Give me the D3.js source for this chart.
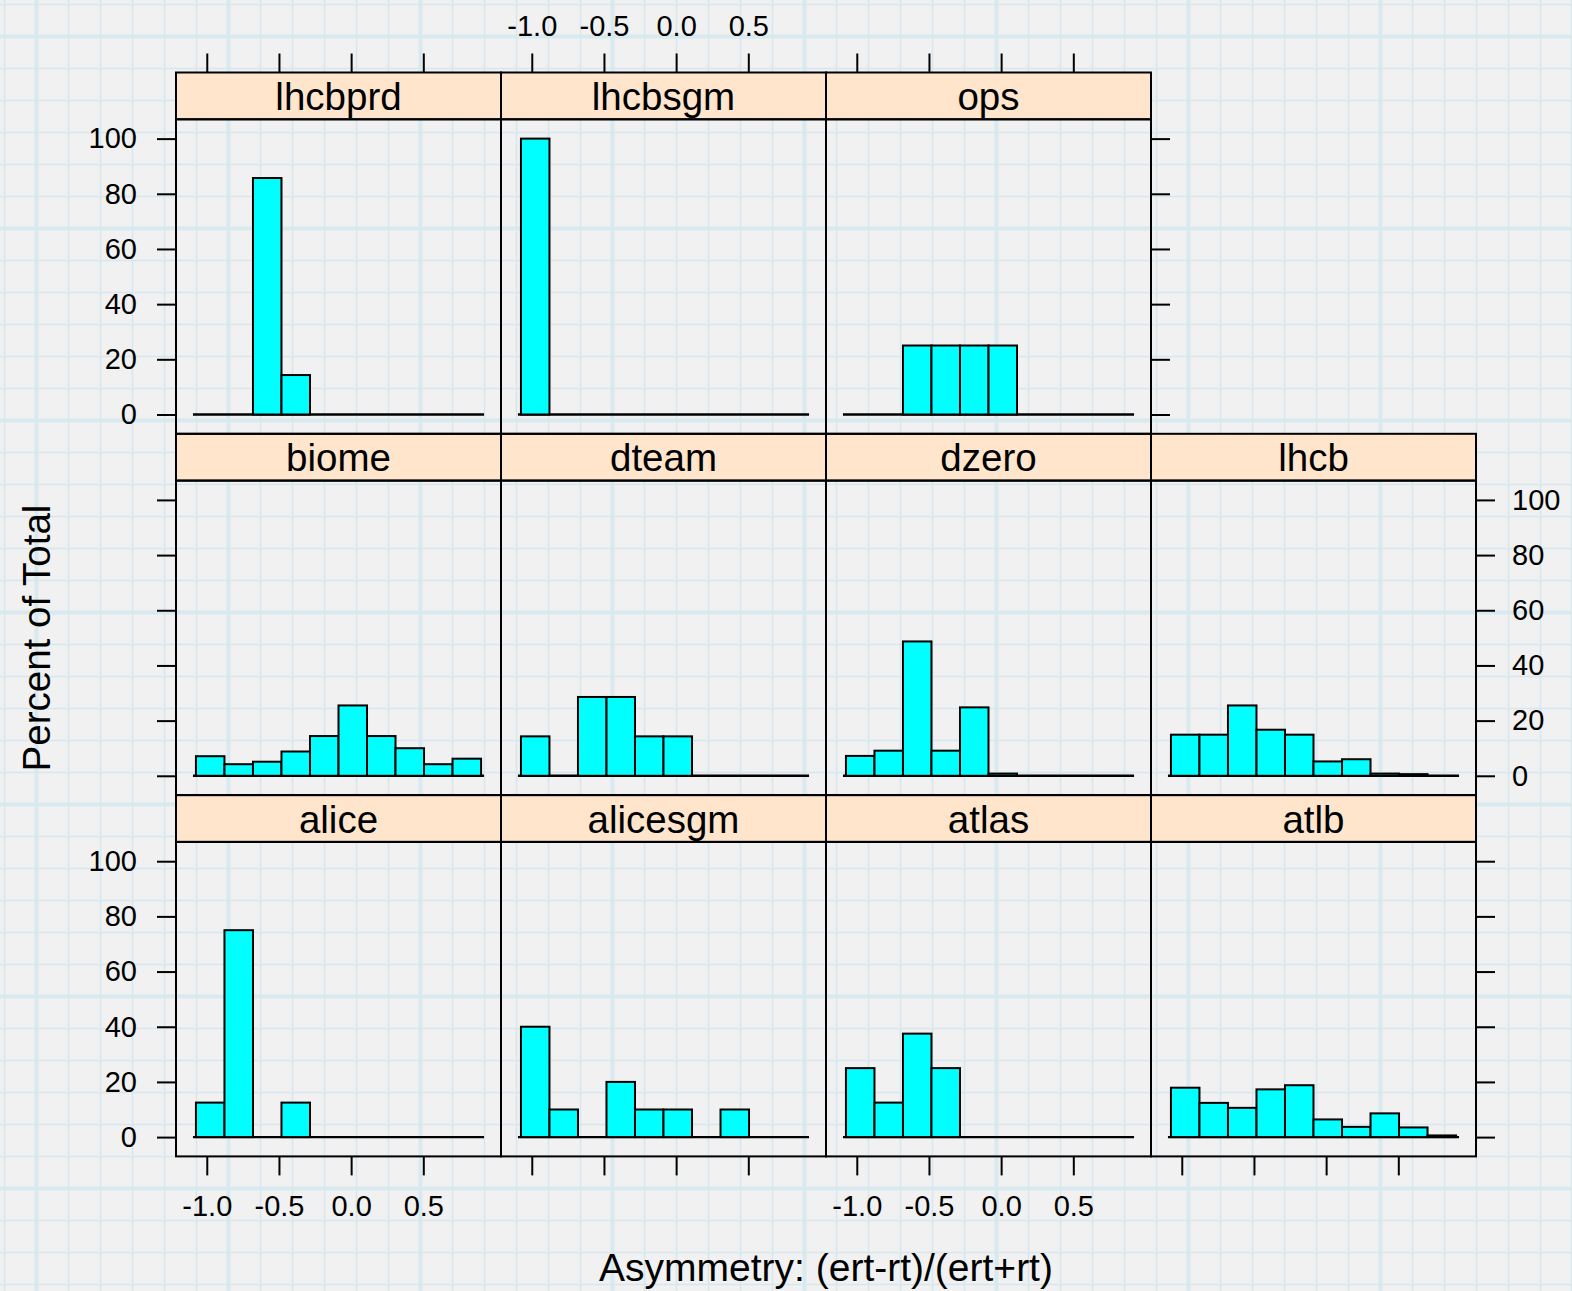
<!DOCTYPE html>
<html>
<head>
<meta charset="utf-8">
<script src="https://cdn.jsdelivr.net/npm/d3@7"></script>
<style>
  html, body { margin: 0; padding: 0; background: #f1f1f1; }
  svg { display: block; }
  text { font-family: "Liberation Sans", Arial, Helvetica, sans-serif; fill: #000; }
</style>
</head>
<body>
<svg id="chart" width="1572" height="1291"></svg>
<script>
// ---------------- DATA ----------------
const categories = ["alice","alicesgm","atlas","atlb","biome","dteam","dzero","lhcb","lhcbprd","lhcbsgm","ops"];
const breaks = [-1.075, -0.8775, -0.680, -0.4825, -0.285, -0.0875, 0.110, 0.3075, 0.505, 0.7025, 0.900];

const alice    = [12.5, 75.0, 0, 12.5, 0, 0, 0, 0, 0, 0];
const alicesgm = [40, 10, 0, 20, 10, 10, 0, 10, 0, 0];
const atlas    = [25, 12.5, 37.5, 25, 0, 0, 0, 0, 0, 0];
const atlb     = [17.9, 12.4, 10.6, 17.3, 18.8, 6.4, 3.7, 8.6, 3.5, 0.6];
const biome    = [7.1, 4.2, 5.1, 8.8, 14.4, 25.5, 14.4, 10.0, 4.2, 6.2];
const dteam    = [14.29, 0, 28.57, 28.57, 14.29, 14.29, 0, 0, 0, 0];
const dzero    = [7.2, 9.1, 48.7, 9.1, 24.8, 0.8, 0, 0, 0, 0];
const lhcb     = [14.9, 14.9, 25.5, 16.7, 14.9, 5.2, 6.0, 0.8, 0.6, 0];
const lhcbprd  = [0, 0, 85.71, 14.29, 0, 0, 0, 0, 0, 0];
const lhcbsgm  = [100, 0, 0, 0, 0, 0, 0, 0, 0, 0];
const ops      = [0, 0, 25, 25, 25, 25, 0, 0, 0, 0];
const seriesValues = [alice, alicesgm, atlas, atlb, biome, dteam, dzero, lhcb, lhcbprd, lhcbsgm, ops];

const xTicks = [-1.0, -0.5, 0.0, 0.5];
const xTickLabels = ["-1.0", "-0.5", "0.0", "0.5"];
const yTicks = [0, 20, 40, 60, 80, 100];
const yTickLabels = ["0", "20", "40", "60", "80", "100"];
const xLabel = "Asymmetry: (ert-rt)/(ert+rt)";
const yLabel = "Percent of Total";

// ---------------- LAYOUT ----------------
const W = 1572, H = 1291;
const left0 = 176, colW = 325, top0 = 72.5, rowH = 361.3, stripH = 46.8;
const plotH = rowH - stripH;
const nCols = 4, nRows = 3;
const tickLen = 19;

const svg = d3.select("#chart");

// graph-paper background
const bg = svg.append("g");
bg.append("rect").attr("width", W).attr("height", H).attr("fill", "#f1f1f1");
const gridPos = d3.range(0, 50);
bg.selectAll("line.v").data(gridPos).join("line")
  .attr("x1", k => 4.5 + 32 * k).attr("x2", k => 4.5 + 32 * k)
  .attr("y1", 0).attr("y2", H)
  .attr("stroke", k => k % 6 === 1 ? "#d8e9f0" : "#d5e7ef")
  .attr("stroke-width", k => k % 6 === 1 ? 4 : 1.5);
bg.selectAll("line.h").data(gridPos).join("line")
  .attr("y1", k => 4.5 + 32 * k).attr("y2", k => 4.5 + 32 * k)
  .attr("x1", 0).attr("x2", W)
  .attr("stroke", k => k % 6 === 1 ? "#d8e9f0" : "#d5e7ef")
  .attr("stroke-width", k => k % 6 === 1 ? 4 : 1.5);

// scales
const xlimPad = 0.07 * (breaks[breaks.length - 1] - breaks[0]);
const x = d3.scaleLinear()
  .domain([breaks[0] - xlimPad, breaks[breaks.length - 1] + xlimPad])
  .range([0, colW]);
const y = d3.scaleLinear().domain([-7, 107]).range([plotH, 0]);

const fontTick = 29;

function styleAxis(g) {
  g.select(".domain").remove();
  g.selectAll(".tick line").attr("stroke", "#000").attr("stroke-width", 2);
  g.selectAll(".tick text").attr("font-size", fontTick)
    .attr("font-family", "'Liberation Sans', Arial, Helvetica, sans-serif")
    .attr("fill", "#000");
}

const panels = categories.map((c, i) => ({
  name: c, values: seriesValues[i],
  col: i % nCols, row: nRows - 1 - Math.floor(i / nCols)
}));

panels.forEach(p => {
  const gx = left0 + p.col * colW;
  const gy = top0 + p.row * rowH;
  const g = svg.append("g").attr("transform", `translate(${gx},${gy})`);

  // strip
  g.append("rect").attr("x", 0).attr("y", 0).attr("width", colW).attr("height", stripH)
    .attr("fill", "#ffe5cc").attr("stroke", "#000").attr("stroke-width", 2);
  g.append("text").attr("x", colW / 2).attr("y", 37.5)
    .attr("text-anchor", "middle").attr("font-size", 38.5).text(p.name);

  const pg = g.append("g").attr("transform", `translate(0,${stripH})`);

  // baseline of histogram (zero-height bins)
  pg.append("line")
    .attr("x1", x(breaks[0]) - 3).attr("x2", x(breaks[breaks.length - 1]) + 3)
    .attr("y1", y(0)).attr("y2", y(0))
    .attr("stroke", "#000").attr("stroke-width", 2.4);

  const bins = p.values.map((v, j) => ({ v, x0: breaks[j], x1: breaks[j + 1] }));
  pg.selectAll("rect.bar").data(bins.filter(b => b.v > 0)).join("rect")
    .attr("class", "bar")
    .attr("x", b => x(b.x0)).attr("width", b => x(b.x1) - x(b.x0))
    .attr("y", b => y(b.v)).attr("height", b => y(0) - y(b.v))
    .attr("fill", "#00ffff").attr("stroke", "#000").attr("stroke-width", 2);

  // panel border
  pg.append("rect").attr("x", 0).attr("y", 0).attr("width", colW).attr("height", plotH)
    .attr("fill", "none").attr("stroke", "#000").attr("stroke-width", 2);

  // bottom axis (bottom row)
  if (p.row === nRows - 1) {
    const withLabels = p.col % 2 === 0;
    const ax = d3.axisBottom(x).tickValues(xTicks).tickSize(tickLen).tickPadding(20)
      .tickFormat((d, k) => withLabels ? xTickLabels[k] : "");
    pg.append("g").attr("transform", `translate(0,${plotH})`).call(ax).call(styleAxis);
  }
  // top axis (top row)
  if (p.row === 0) {
    const withLabels = p.col % 2 === 1;
    const ax = d3.axisTop(x).tickValues(xTicks).tickSize(tickLen).tickPadding(18)
      .tickFormat((d, k) => withLabels ? xTickLabels[k] : "");
    g.append("g").attr("transform", `translate(0,0)`).call(ax).call(styleAxis);
  }
  // left axis (first column)
  if (p.col === 0) {
    const withLabels = p.row % 2 === 0;
    const ay = d3.axisLeft(y).tickValues(yTicks).tickSize(tickLen).tickPadding(20)
      .tickFormat((d, k) => withLabels ? yTickLabels[k] : "");
    pg.append("g").call(ay).call(styleAxis);
  }
  // right axis (last panel in its row)
  const lastInRow = !panels.some(q => q.row === p.row && q.col > p.col);
  if (lastInRow) {
    const withLabels = p.row === 1;
    const ay = d3.axisRight(y).tickValues(yTicks).tickSize(tickLen).tickPadding(17)
      .tickFormat((d, k) => withLabels ? yTickLabels[k] : "");
    pg.append("g").attr("transform", `translate(${colW},0)`).call(ay).call(styleAxis);
  }
});

// axis titles
svg.append("text").attr("x", left0 + nCols * colW / 2).attr("y", 1281)
  .attr("text-anchor", "middle").attr("font-size", 39).text(xLabel);
svg.append("text").attr("transform", "translate(50,638) rotate(-90)")
  .attr("text-anchor", "middle").attr("font-size", 38.5).text(yLabel);
</script>
</body>
</html>
